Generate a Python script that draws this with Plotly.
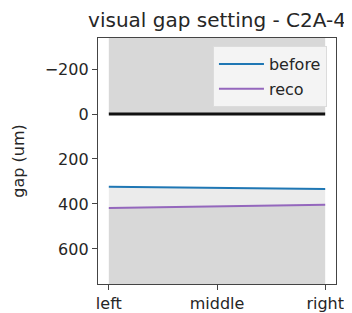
import plotly.graph_objects as go

positions = ["left", "middle", "right"]
x_idx = [0, 1, 2]
before = [324, 328, 333]
reco = [418, 411, 404]
zero_line = [0, 0, 0]
y_ticks = [-200, 0, 200, 400, 600]

Y_TOP = -338
Y_BOT = 756

DARK = "#d8d8d8"
LIGHT = "#ebebeb"
FONT = "DejaVu Sans, Verdana, sans-serif"
TXT = "#262626"

# the page body adds an 8px offset; the figure is sized to fill the rest of the window
W, H = 344, 305

fig = go.Figure()
# dark region below reco (down to axis bottom)
fig.add_trace(go.Scatter(x=x_idx + x_idx[::-1], y=reco + [Y_BOT] * 3, mode="lines", line=dict(width=0),
                         fill="toself", fillcolor=DARK, showlegend=False, hoverinfo="skip"))
# light region between before and reco
fig.add_trace(go.Scatter(x=x_idx + x_idx[::-1], y=before + reco[::-1], mode="lines", line=dict(width=0),
                         fill="toself", fillcolor=LIGHT, showlegend=False, hoverinfo="skip"))
# dark region above zero (up to axis top)
fig.add_trace(go.Scatter(x=x_idx + x_idx[::-1], y=zero_line + [Y_TOP] * 3, mode="lines", line=dict(width=0),
                         fill="toself", fillcolor=DARK, showlegend=False, hoverinfo="skip"))
# visible lines
fig.add_trace(go.Scatter(x=x_idx, y=zero_line, mode="lines", line=dict(color="#111111", width=3), showlegend=False))
fig.add_trace(go.Scatter(x=x_idx, y=before, mode="lines", name="before", legendgroup="a",
                         line=dict(color="#1f77b4", width=2)))
fig.add_trace(go.Scatter(x=x_idx, y=reco, mode="lines", name="reco", legendgroup="b",
                         line=dict(color="#9467bd", width=2)))

axis_common = dict(
    showline=True, mirror=True, linecolor="#444444", linewidth=1.3,
    ticks="outside", ticklen=5, tickwidth=1.2, tickcolor="#444444",
    showgrid=False, zeroline=False, automargin=False,
    tickfont=dict(family=FONT, size=16, color=TXT),
)

fig.update_layout(
    width=W, height=H,
    margin=dict(l=90, r=16, t=30, b=29),
    paper_bgcolor="white", plot_bgcolor="white",
    font=dict(family=FONT, color=TXT),
    title=dict(text="visual gap setting - C2A-4", x=0.5, xref="paper", xanchor="center",
               y=1 - 12 / H, yref="container", yanchor="middle",
               font=dict(family=FONT, size=20, color=TXT)),
    xaxis=dict(range=[-0.1, 2.1], tickvals=x_idx, ticktext=positions, **axis_common),
    yaxis=dict(range=[Y_BOT, Y_TOP], tickvals=y_ticks,
               title=dict(text="gap (um)", font=dict(family=FONT, size=16, color=TXT), standoff=16),
               **axis_common),
    legend=dict(x=0.962, y=0.967, xanchor="right", yanchor="top", traceorder="grouped",
                tracegroupgap=1, itemwidth=45,
                bgcolor="#f4f4f4", bordercolor="#dcdcdc", borderwidth=1,
                font=dict(family=FONT, size=16, color=TXT)),
)

fig.write_html("out.html")
